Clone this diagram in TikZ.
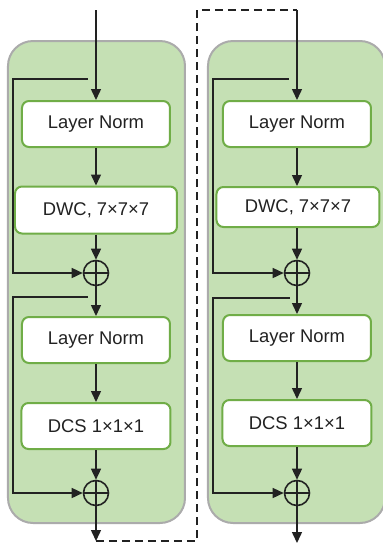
\documentclass[tikz,border=0pt]{standalone}
\usepackage{fontspec}
\setmainfont{Liberation Sans}
\usetikzlibrary{arrows.meta,positioning,calc}

\definecolor{panelgreen}{HTML}{C5E0B4}
\definecolor{panelgray}{HTML}{ABABAB}
\definecolor{boxgreen}{HTML}{70AD47}
\definecolor{inkgray}{HTML}{222222}

\begin{document}
\begin{tikzpicture}[
x=0.5pt, y=-0.5pt,
panel/.style={draw=panelgray, fill=panelgreen, line width=1pt, rounded corners=12.5pt},
blk/.style={draw=boxgreen, fill=white, line width=1pt, rounded corners=3.5pt, minimum width=74pt, minimum height=23pt, inner sep=0pt, text=inkgray, font=\fontsize{9.2}{11}\selectfont},
add/.style={circle, draw=inkgray, line width=0.8pt, minimum size=12.5pt, inner sep=0pt,
  path picture={\draw[inkgray, line width=0.8pt] (path picture bounding box.north) -- (path picture bounding box.south) (path picture bounding box.west) -- (path picture bounding box.east);}},
arrow/.style={-{Triangle[length=5.5pt,width=5pt]}, line width=0.75pt, draw=inkgray},
link/.style={dashed, dash pattern=on 4pt off 2.5pt, line width=0.75pt, draw=inkgray}
]
\useasboundingbox (0,0) rectangle (382,543);

% two ConvNeXt-style blocks
\draw[panel] (8,41) rectangle (185,523);
\draw[panel] (208,41) rectangle (385,523);

% first block
\coordinate (in1) at (96,10);
\node[blk] (norm1a) at (96,124) {Layer Norm};
\node[blk, minimum width=81pt, minimum height=23.5pt] (dwc1) at (96,210) {DWC, 7×7×7};
\node[add] (add1a) at (96,273) {};
\node[blk] (norm1b) at (96,340) {Layer Norm};
\node[blk, minimum width=74.5pt] (dcs1) at (96,426) {DCS 1×1×1};
\node[add] (add1b) at (96,493) {};
\coordinate (out1) at (96,541);
\coordinate (tap1a) at (88,79);
\coordinate (rail1a) at (13,79);
\coordinate (tap1b) at (88,297);
\coordinate (rail1b) at (13,297);

% second block
\coordinate (in2) at (297,10);
\node[blk] (norm2a) at (297,124) {Layer Norm};
\node[blk, minimum width=81.5pt, minimum height=20pt] (dwc2) at (298,207) {DWC, 7×7×7};
\node[add] (add2a) at (297,273) {};
\node[blk] (norm2b) at (297,338) {Layer Norm};
\node[blk, minimum width=74.5pt] (dcs2) at (297,423) {DCS 1×1×1};
\node[add] (add2b) at (297,493) {};
\coordinate (out2) at (297,543);
\coordinate (tap2a) at (289,79);
\coordinate (rail2a) at (213,79);
\coordinate (tap2b) at (290,298);
\coordinate (rail2b) at (213,298);

% main path
\draw[arrow] (in1) -- (norm1a);
\draw[arrow] (norm1a) -- (dwc1);
\draw[arrow] (dwc1) -- (add1a);
\draw[arrow] (add1a) -- (norm1b);
\draw[arrow] (norm1b) -- (dcs1);
\draw[arrow] (dcs1) -- (add1b);
\draw[arrow] (add1b) -- (out1);

\draw[arrow] (in2) -- (norm2a);
\draw[arrow] (norm2a) -- (dwc2.north -| norm2a);
\draw[arrow] (dwc2.south -| norm2a) -- (add2a);
\draw[arrow] (add2a) -- (norm2b);
\draw[arrow] (norm2b) -- (dcs2);
\draw[arrow] (dcs2) -- (add2b);
\draw[arrow] (add2b) -- (out2);

% residual shortcuts
\draw[arrow] (tap1a) -- (rail1a) |- (add1a);
\draw[arrow] (tap1b) -- (rail1b) |- (add1b);
\draw[arrow] (tap2a) -- (rail2a) |- (add2a);
\draw[arrow] (tap2b) -- (rail2b) |- (add2b);

% hand-over between the blocks
\coordinate (bend) at (197,10);
\draw[link] (out1) -| (bend) -- (in2);
\end{tikzpicture}
\end{document}
